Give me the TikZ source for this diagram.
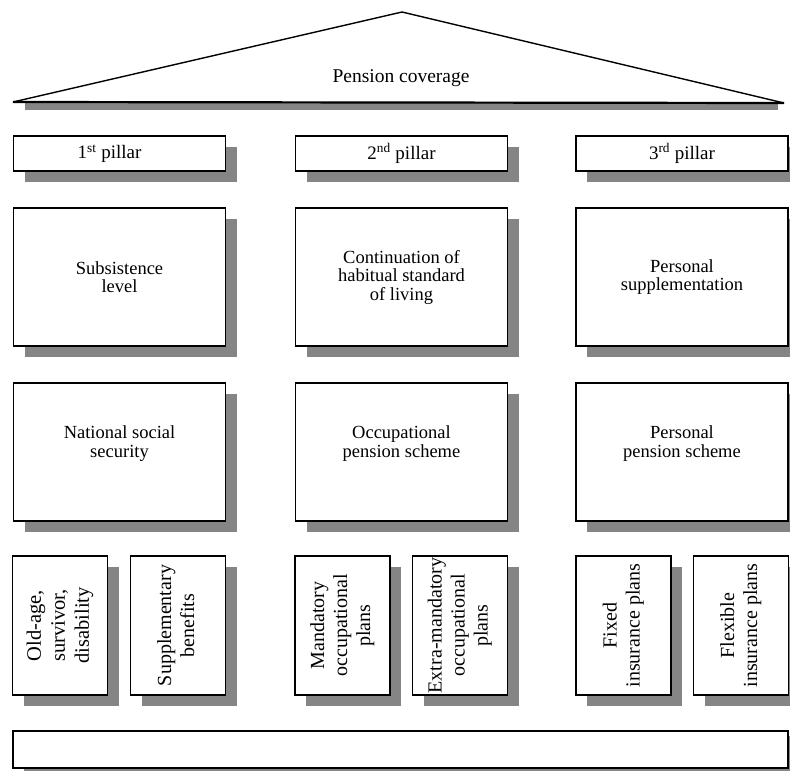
\documentclass[tikz,border=0pt]{standalone}
\usepackage{fontspec}
\setmainfont{Liberation Serif}
\usepackage{graphicx}
\usetikzlibrary{shadows}
\begin{document}
\begin{tikzpicture}[x=1pt,y=-1pt,
  box/.style={draw=black, fill=white, line width=1.2pt, inner sep=0pt, align=center,
    drop shadow={shadow xshift=11pt, shadow yshift=-11pt, fill=black!48, opacity=1}},
  hdr/.style={box, minimum width=212pt, minimum height=35pt, font=\fontsize{19}{19}\selectfont},
  big/.style={box, minimum width=212pt, minimum height=138pt, font=\fontsize{18.5}{18.5}\selectfont},
  small/.style={box, minimum width=95pt, minimum height=139pt, font=\fontsize{20}{23}\selectfont},
  roofline/.style={line width=1.4pt, line join=round},
]
\useasboundingbox (0,0) rectangle (790,771);

% roof
\coordinate (apex) at (402,12);
\coordinate (roofL) at (13,102);
\coordinate (roofR) at (784,103);
\fill[black!48] (25,103) rectangle (778,110);
\filldraw[roofline, fill=white] (roofL) -- (apex) -- (roofR);
\draw[line width=2.2pt] (roofL) -- (roofR);
\node[font=\fontsize{19.5}{19.5}\selectfont] (roof) at (401,78) {Pension coverage};

% pillar headers
\node[hdr] (p1) at (119.5,153.5) {\hspace*{-20pt}1\textsuperscript{st} pillar};
\node[hdr] (p2) at (401.5,153.5) {2\textsuperscript{nd} pillar};
\node[hdr] (p3) at (682,153.5) {3\textsuperscript{rd} pillar};

% aims
\node[big] (a1) at (119.5,277) {Subsistence\\level};
\node[big] (a2) at (401.5,277) {Continuation of\\habitual standard\\of living};
\node[big] (a3) at (682,277) {Personal\\supplementation};

% schemes
\node[big] (s1) at (119.5,452) {National social\\security\\[2pt]};
\node[big] (s2) at (401.5,452) {Occupational\\pension scheme\\[2pt]};
\node[big] (s3) at (682,452) {Personal\\pension scheme\\[2pt]};

% plans
\node[small, font=\fontsize{20.5}{24}\selectfont] (b1) at (60,625.5)
  {\rotatebox{90}{\begin{tabular}{@{}c@{}}Old-age,\\survivor,\\disability\end{tabular}}};
\node[small] (b2) at (178,625.5)
  {\rotatebox{90}{\begin{tabular}{@{}c@{}}Supplementary\\benefits\end{tabular}}};
\node[small] (b3) at (342.5,625.5)
  {\rotatebox{90}{\begin{tabular}{@{}c@{}}Mandatory\\occupational\\plans\end{tabular}}};
\node[small] (b4) at (460,625.5)
  {\rotatebox{90}{\begin{tabular}{@{}c@{}}Extra-mandatory\\occupational\\plans\end{tabular}}};
\node[small] (b5) at (623.5,625.5)
  {\rotatebox{90}{\begin{tabular}{@{}c@{}}Fixed\\insurance plans\end{tabular}}};
\node[small] (b6) at (741,625.5)
  {\rotatebox{90}{\begin{tabular}{@{}c@{}}Flexible\\insurance plans\end{tabular}}};

% foundation
\node[box, minimum width=775pt, minimum height=37pt,
  drop shadow={shadow xshift=11pt, shadow yshift=-5pt, fill=black!48, opacity=1}]
  (base) at (400.5,749.5) {};
\end{tikzpicture}
\end{document}
